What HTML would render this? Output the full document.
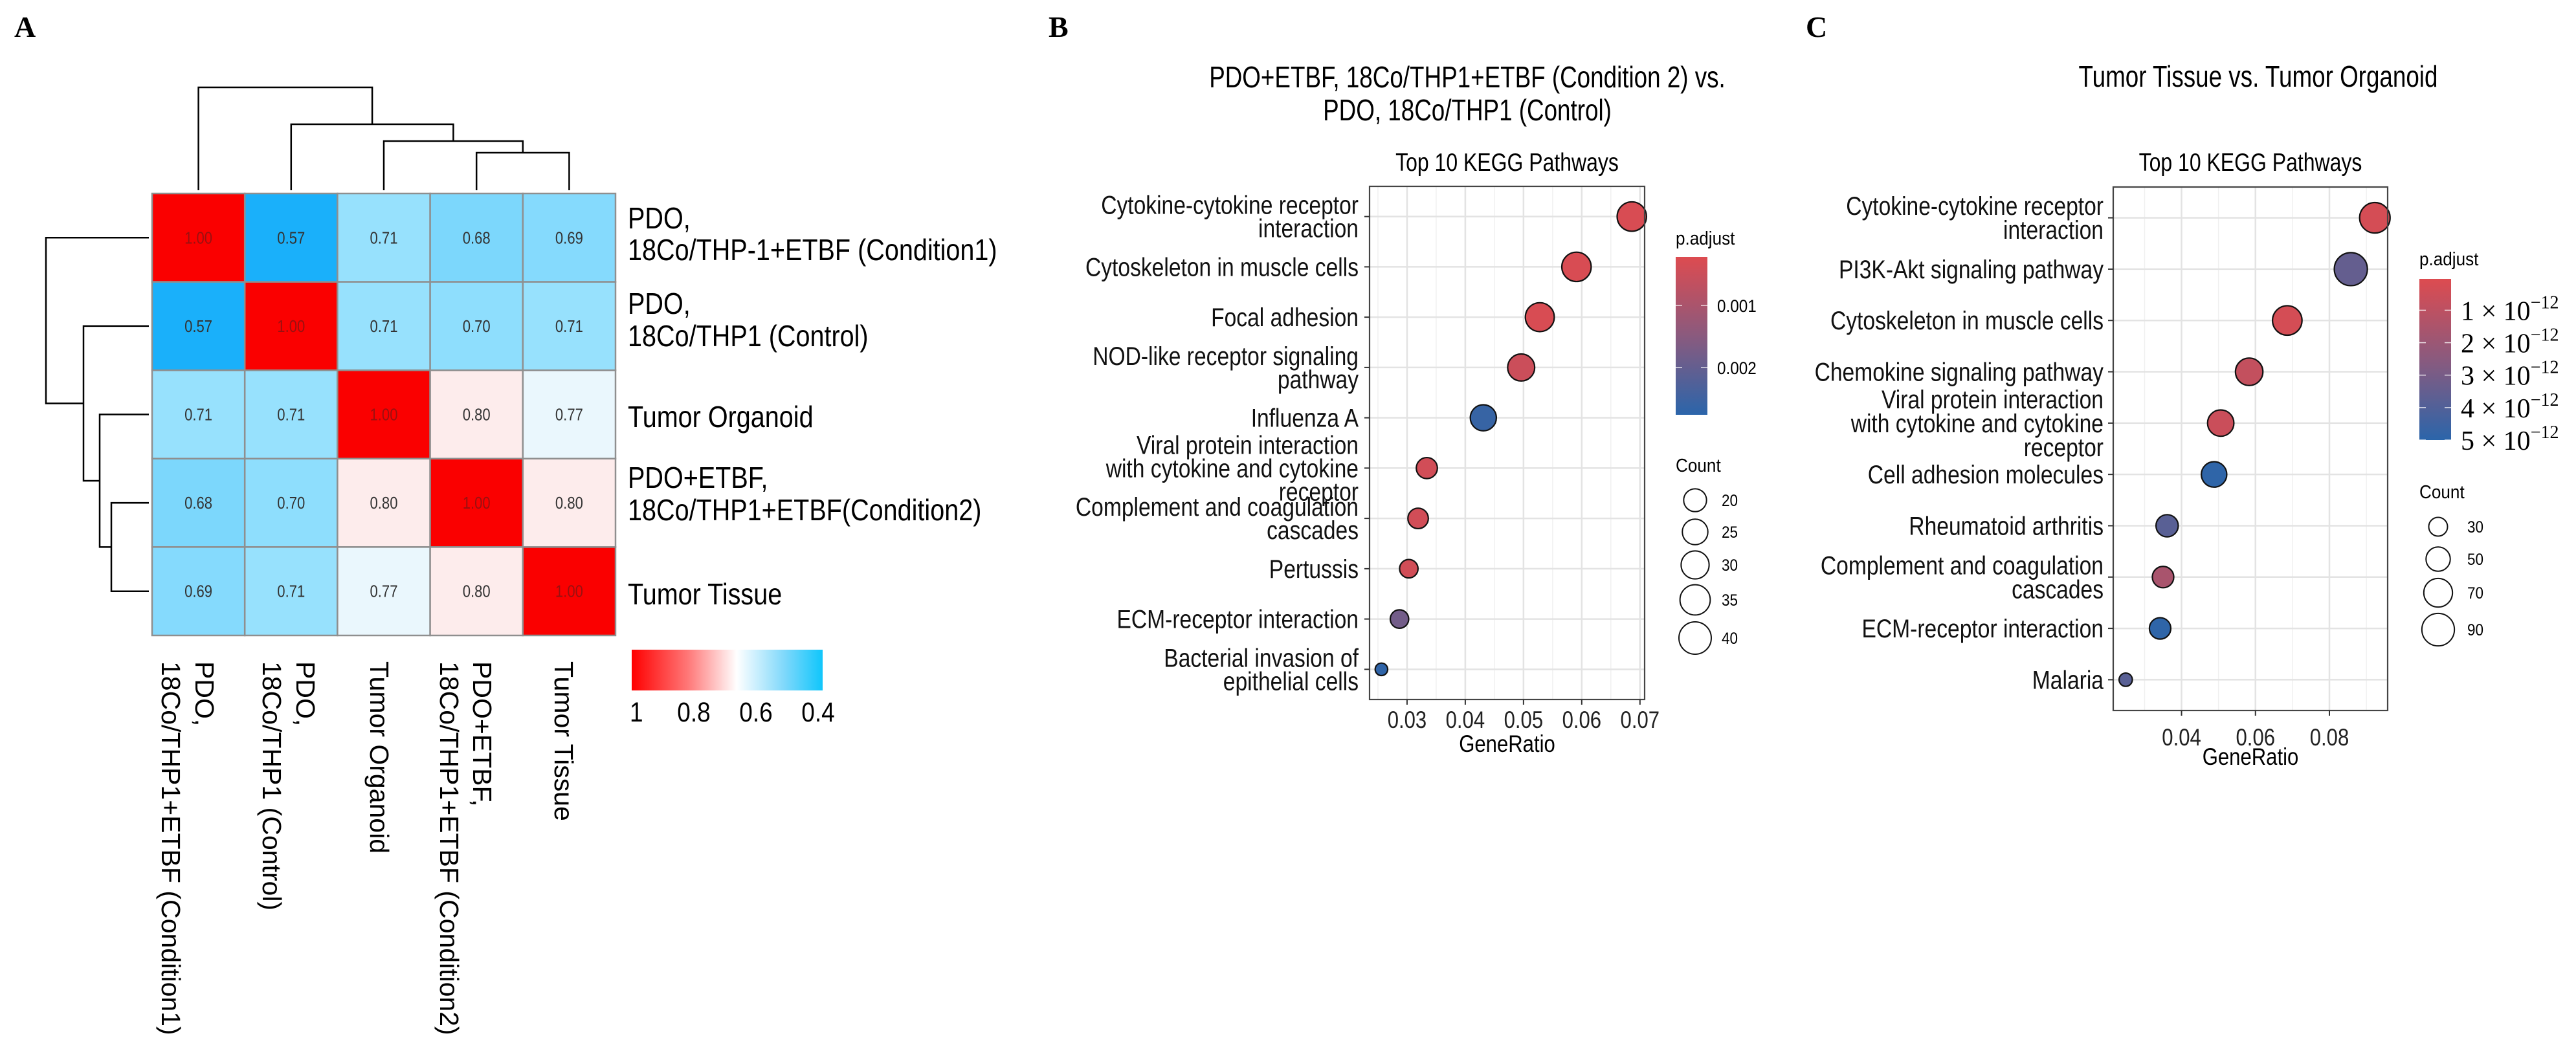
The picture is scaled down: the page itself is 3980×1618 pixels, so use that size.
<!DOCTYPE html>
<html><head><meta charset="utf-8">
<style>
html,body{margin:0;padding:0;background:#fff;}
svg{display:block;font-family:"Liberation Sans",Arial,sans-serif;}
</style></head>
<body>
<svg id="fig" width="3980" height="1618" viewBox="0 0 3980 1618" xmlns="http://www.w3.org/2000/svg">
<defs>
<linearGradient id="hmGrad" x1="0" y1="0" x2="1" y2="0">
<stop offset="0" stop-color="#ff0000"/><stop offset="0.3" stop-color="#ff7a7a"/><stop offset="0.55" stop-color="#ffffff"/><stop offset="0.8" stop-color="#7fd8fb"/><stop offset="1" stop-color="#0fc6fb"/>
</linearGradient>
<linearGradient id="padjGrad" x1="0" y1="0" x2="0" y2="1">
<stop offset="0" stop-color="#dd4b50"/><stop offset="0.5" stop-color="#8a5a7e"/><stop offset="1" stop-color="#2b65aa"/>
</linearGradient>
</defs>
<text x="22" y="57" font-family="Liberation Serif,serif" font-weight="bold" font-size="46">A</text>
<text x="1620" y="57" font-family="Liberation Serif,serif" font-weight="bold" font-size="46">B</text>
<text x="2790" y="57" font-family="Liberation Serif,serif" font-weight="bold" font-size="46">C</text>
<text class="n" data-r="0.8" x="2267" y="135" font-size="46" text-anchor="middle">PDO+ETBF, 18Co/THP1+ETBF (Condition 2) vs.</text>
<text class="n" data-r="0.8" x="2267" y="186" font-size="46" text-anchor="middle">PDO, 18Co/THP1 (Control)</text>
<text class="n" data-r="0.8" x="3489" y="134" font-size="46" text-anchor="middle">Tumor Tissue vs. Tumor Organoid</text>
<g id="gA"></g>
<g id="gB"></g>
<g id="gC"></g>
</svg>
<script>
// ---------- Panel A data ----------
const hmRowLabels = [["PDO,","18Co/THP-1+ETBF (Condition1)"],["PDO,","18Co/THP1 (Control)"],["Tumor Organoid"],["PDO+ETBF,","18Co/THP1+ETBF(Condition2)"],["Tumor Tissue"]];
const hmColLabels = [["PDO,","18Co/THP1+ETBF (Condition1)"],["PDO,","18Co/THP1 (Control)"],["Tumor Organoid"],["PDO+ETBF,","18Co/THP1+ETBF (Condition2)"],["Tumor Tissue"]];
const corr = [
 [1.00,0.57,0.71,0.68,0.69],
 [0.57,1.00,0.71,0.70,0.71],
 [0.71,0.71,1.00,0.80,0.77],
 [0.68,0.70,0.80,1.00,0.80],
 [0.69,0.71,0.77,0.80,1.00]];
const hmLegendTicks = [1,0.8,0.6,0.4];

// ---------- Panel B data ----------
const bPathways = ["Cytokine-cytokine receptor\ninteraction","Cytoskeleton in muscle cells","Focal adhesion","NOD-like receptor signaling\npathway","Influenza A","Viral protein interaction\nwith cytokine and cytokine\nreceptor","Complement and coagulation\ncascades","Pertussis","ECM-receptor interaction","Bacterial invasion of\nepithelial cells"];
const bGeneRatio = [0.0686,0.0591,0.0528,0.0496,0.0431,0.0334,0.0319,0.0303,0.0287,0.0256];
const bCount = [33,33,32,28,26,17,16,13,13,6];
const bPadj = [0.0003,0.0003,0.0003,0.0005,0.0026,0.0004,0.0004,0.0004,0.0018,0.0027];
const bXTicks = [0.03,0.04,0.05,0.06,0.07];
const bXTickLabels = ["0.03","0.04","0.05","0.06","0.07"];
const bPadjTicks = [0.001,0.002];
const bPadjTickLabels = ["0.001","0.002"];
const bSizeLegend = [20,25,30,35,40];

// ---------- Panel C data ----------
const cPathways = ["Cytokine-cytokine receptor\ninteraction","PI3K-Akt signaling pathway","Cytoskeleton in muscle cells","Chemokine signaling pathway","Viral protein interaction\nwith cytokine and cytokine\nreceptor","Cell adhesion molecules","Rheumatoid arthritis","Complement and coagulation\ncascades","ECM-receptor interaction","Malaria"];
const cGeneRatio = [0.0923,0.0858,0.0686,0.0583,0.0506,0.0488,0.0361,0.0350,0.0342,0.0249];
const cCount = [79,93,74,64,59,55,42,39,39,15];
const cPadj = [0.3e-12,3.5e-12,0.3e-12,0.8e-12,0.6e-12,4.9e-12,3.8e-12,1.6e-12,4.9e-12,3.8e-12];
const cXTicks = [0.04,0.06,0.08];
const cXTickLabels = ["0.04","0.06","0.08"];
const cPadjTicks = [1e-12,2e-12,3e-12,4e-12,5e-12];
const cPadjTickLabels = ["1","2","3","4","5"];
const cSizeLegend = [30,50,70,90];

const NS = "http://www.w3.org/2000/svg";
function mk(tag, attrs, parent){
  const e = document.createElementNS(NS, tag);
  for (const k in attrs) e.setAttribute(k, attrs[k]);
  parent.appendChild(e);
  return e;
}

// ================= Panel A =================
(function(){
  const g = document.getElementById('gA');
  const x0=235, cw=143.2, y0=299, ch=136.6;
  const anchors = [[1.0,[250,0,0]],[0.80,[253,236,236]],[0.77,[234,247,253]],[0.71,[151,225,253]],[0.57,[26,176,250]]];
  function hmColor(v){
    for (let i=0;i<anchors.length-1;i++){
      const a=anchors[i], b=anchors[i+1];
      if (v<=a[0] && v>=b[0]){
        const t=(a[0]-v)/(a[0]-b[0]);
        const c=a[1].map((q,j)=>Math.round(q+(b[1][j]-q)*t));
        return 'rgb('+c.join(',')+')';
      }
    }
    return v>1?'rgb(250,0,0)':'rgb(26,176,250)';
  }
  corr.forEach((row,r)=>{
    row.forEach((v,c)=>{
      const rect = mk('rect',{x:x0+c*cw,y:y0+r*ch,width:cw,height:ch,fill:hmColor(v),stroke:'#8f8f8f','stroke-width':2.5},g);
      
      
      const t = mk('text',{x:x0+c*cw+cw/2,y:y0+r*ch+ch/2+9,'font-size':26,'text-anchor':'middle',fill:v>=0.99?'#9a1010':'#333',class:'n','data-r':'0.85'},g);
      t.textContent = v.toFixed(2);
      
      
    });
  });
  // dendrograms
  const colC = i=>x0+cw*(i+0.5), rowC=i=>y0+ch*(i+0.5);
  const dp = 'stroke:#000;stroke-width:2.5;fill:none';
  const top = [
    // col dendrogram: (4,5) at 236, (3,(4,5)) at 218, (2,...) at 192, root 135
    `M${colC(3)},294 V236 H${colC(4)} V294`,
    `M${colC(2)},294 V218 H${(colC(3)+colC(4))/2} V236`,
    `M${colC(1)},294 V192 H${(colC(2)+(colC(3)+colC(4))/2)/2} V218`,
    `M${colC(0)},294 V135 H${(colC(1)+(colC(2)+(colC(3)+colC(4))/2)/2)/2} V192`
  ];
  const left = [
    `M230,${rowC(3)} H172 V${rowC(4)} H230`,
    `M230,${rowC(2)} H154 V${(rowC(3)+rowC(4))/2} H172`,
    `M230,${rowC(1)} H129 V${(rowC(2)+(rowC(3)+rowC(4))/2)/2} H154`,
    `M230,${rowC(0)} H71 V${(rowC(1)+(rowC(2)+(rowC(3)+rowC(4))/2)/2)/2} H129`
  ];
  top.forEach(d=>{const p=mk('path',{d:d,style:dp},g);
    
    });
  left.forEach(d=>{const p=mk('path',{d:d,style:dp},g);
    
    });
  // row labels
  const rowBase = [[353,402],[485,535],[660],[754,804],[934]];
  hmRowLabels.forEach((lines,i)=>{
    lines.forEach((s,j)=>{
      const t = mk('text',{x:970,y:rowBase[i][j],'font-size':46,class:'n','data-r':'0.86'},g);
      t.textContent = s;
      
      
    });
  });
  // column labels (rotated)
  const colBase = [[302,250],[458,406],[572],[731,680],[857]];
  hmColLabels.forEach((lines,i)=>{
    lines.forEach((s,j)=>{
      const t = mk('text',{transform:`translate(${colBase[i][j]},1022) rotate(90)`,'font-size':41},g);
      t.textContent = s;
      
      
    });
  });
  // legend
  const lb = mk('rect',{x:976,y:1004,width:295,height:63,fill:'url(#hmGrad)'},g);
  
  
  const lx = v=>976+ (1-v)/0.6*288;
  hmLegendTicks.forEach((v,i)=>{
    const t = mk('text',{x:i===0?973:lx(v),y:1115,'font-size':43,'text-anchor':i===0?'start':'middle',class:'n','data-r':'0.86'},g);
    t.textContent = String(v);
    
    
  });
})();

// ================= Dot plots =================
function padjColor(p, pmin, pmax){
  let t=(p-pmin)/(pmax-pmin); t=Math.max(0,Math.min(1,t));
  const a=[221,75,80], m=[138,90,126], b=[43,101,170];
  let c;
  if (t<0.5){const s=t/0.5; c=a.map((q,j)=>Math.round(q+(m[j]-q)*s));}
  else {const s=(t-0.5)/0.5; c=m.map((q,j)=>Math.round(q+(b[j]-q)*s));}
  return 'rgb('+c.join(',')+')';
}
function dotplot(gid, cfg, paths, ratio, count, padj, xt, xtl, pt, ptl, sizes){
  const g = document.getElementById(gid);
  const L=cfg.L,R=cfg.R,T=cfg.T,B=cfg.B;
  const xs = v=>L+(v-cfg.xmin)/(cfg.xmax-cfg.xmin)*(R-L);
  const unit=(B-T)/(paths.length-1+1.2);
  const ys = i=>T+unit*(0.6+i);
  const rs = c=>cfg.k*Math.sqrt(c);
  const bg = mk('rect',{x:L,y:T,width:R-L,height:B-T,fill:'#fff'},g);
  
  
  // minor grid
  for (let i=0;i<xt.length+1;i++){
    const step = xt[1]-xt[0];
    const v = xt[0]-step/2+i*step;
    if (xs(v)>L && xs(v)<R){
      const l=mk('line',{x1:xs(v),x2:xs(v),y1:T,y2:B,stroke:'#f0f0f0','stroke-width':1.5},g);
      
      
    }
  }
  xt.forEach(v=>{
    const l=mk('line',{x1:xs(v),x2:xs(v),y1:T,y2:B,stroke:'#e3e3e3','stroke-width':2.5},g);
    
    
  });
  paths.forEach((p,i)=>{
    const l=mk('line',{x1:L,x2:R,y1:ys(i),y2:ys(i),stroke:'#e3e3e3','stroke-width':2.5},g);
    
    
  });
  // dots
  paths.forEach((p,i)=>{
    const c=mk('circle',{cx:xs(ratio[i]),cy:ys(i),r:rs(count[i]),fill:padjColor(padj[i],cfg.pmin,cfg.pmax),stroke:'#111','stroke-width':2.2},g);
    
    
  });
  const bd=mk('rect',{x:L,y:T,width:R-L,height:B-T,fill:'none',stroke:'#444','stroke-width':2.2},g);
  
  
  // y labels
  paths.forEach((p,i)=>{
    const tk=mk('line',{x1:L-8,x2:L,y1:ys(i),y2:ys(i),stroke:'#333','stroke-width':2},g);
    
    
    const lines=p.split('\n');
    lines.forEach((s,j)=>{
      const y=ys(i)-(lines.length-1)*cfg.lh/2+j*cfg.lh+14;
      const t=mk('text',{x:cfg.labR,y:y,'font-size':40,'text-anchor':'end',class:'n','data-r':'0.84',fill:'#111'},g);
      t.textContent=s;
      
      
    });
  });
  // x ticks
  xt.forEach((v,i)=>{
    const tk=mk('line',{x1:xs(v),x2:xs(v),y1:B,y2:B+8,stroke:'#333','stroke-width':2},g);
    
    
    const t=mk('text',{x:xs(v),y:cfg.tickY,'font-size':37,'text-anchor':'middle',class:'n','data-r':'0.84',fill:'#222'},g);
    t.textContent=xtl[i];
    
    
  });
  const xt2=mk('text',{x:(L+R)/2,y:cfg.xtitY,'font-size':37,'text-anchor':'middle',class:'n','data-r':'0.84'},g);
  xt2.textContent='GeneRatio';
  
  
  const tt=mk('text',{x:(L+R)/2,y:264,'font-size':39,'text-anchor':'middle',class:'n','data-r':'0.82'},g);
  tt.textContent='Top 10 KEGG Pathways';
  
  
  // colorbar
  const cb=cfg.cb;
  const pt1=mk('text',{x:cb.x,y:cb.titleY,'font-size':29,class:'n','data-r':'0.9'},g);
  pt1.textContent='p.adjust';
  
  
  const bar=mk('rect',{x:cb.x,y:cb.y0,width:49,height:cb.y1-cb.y0,fill:'url(#padjGrad)'},g);
  
  
  const cy=v=>cb.y0+(v-cfg.pmin)/(cfg.pmax-cfg.pmin)*(cb.y1-cb.y0);
  pt.forEach((v,i)=>{
    mk('line',{x1:cb.x,x2:cb.x+10,y1:cy(v),y2:cy(v),stroke:'#fff','stroke-width':1.5,opacity:0.8},g);
    mk('line',{x1:cb.x+39,x2:cb.x+49,y1:cy(v),y2:cy(v),stroke:'#fff','stroke-width':1.5,opacity:0.8},g);
    let t;
    if (cfg.sci){
      t=mk('text',{x:cb.x+64,y:cy(v)+15,'font-size':42,'font-family':'Liberation Serif,serif'},g);
      t.textContent=ptl[i]+' \u00d7 10';
      const sup=mk('tspan',{dy:-18,'font-size':28},t);
      sup.textContent='\u221212';
    } else {
      t=mk('text',{x:cb.x+64,y:cy(v)+10,'font-size':27,class:'n','data-r':'0.9'},g);
      t.textContent=ptl[i];
    }
    
    
  });
  // size legend
  const sl=cfg.sl;
  const st=mk('text',{x:cb.x,y:sl.titleY,'font-size':29,class:'n','data-r':'0.9'},g);
  st.textContent='Count';
  
  
  sizes.forEach((c,i)=>{
    const cc=mk('circle',{cx:sl.cx,cy:sl.ys[i],r:rs(c),fill:'#fff',stroke:'#111','stroke-width':2},g);
    
    
    const t=mk('text',{x:sl.lx,y:sl.ys[i]+9,'font-size':25,class:'n','data-r':'0.9'},g);
    t.textContent=String(c);
    
    
  });
}
dotplot('gB',{L:2116,R:2541,T:288,B:1081,xmin:0.02356,xmax:0.0708,k:3.95,lh:36,labR:2099,tickY:1125,xtitY:1162,
  pmin:0.00022,pmax:0.00276,sci:false,
  cb:{x:2589,y0:397,y1:641,titleY:378},
  sl:{titleY:729,cx:2619,lx:2660,ys:[773,822,873,927,986]}},
  bPathways,bGeneRatio,bCount,bPadj,bXTicks,bXTickLabels,bPadjTicks,bPadjTickLabels,bSizeLegend);
dotplot('gC',{L:3265,R:3689,T:289,B:1098,xmin:0.02152,xmax:0.09576,k:2.65,lh:37,labR:3250,tickY:1152,xtitY:1182,
  pmin:0.034e-12,pmax:5e-12,sci:true,
  cb:{x:3738,y0:431,y1:680,titleY:410},
  sl:{titleY:770,cx:3767,lx:3812,ys:[814,864,916,973]}},
  cPathways,cGeneRatio,cCount,cPadj,cXTicks,cXTickLabels,cPadjTicks,cPadjTickLabels,cSizeLegend);

// condense text horizontally
document.querySelectorAll('text.n').forEach(t=>{
  const r=parseFloat(t.getAttribute('data-r')||'0.84');
  const w=t.getComputedTextLength();
  if (w>0){t.setAttribute('textLength',(w*r).toFixed(1));t.setAttribute('lengthAdjust','spacingAndGlyphs');}
});
</script>
</body></html>
